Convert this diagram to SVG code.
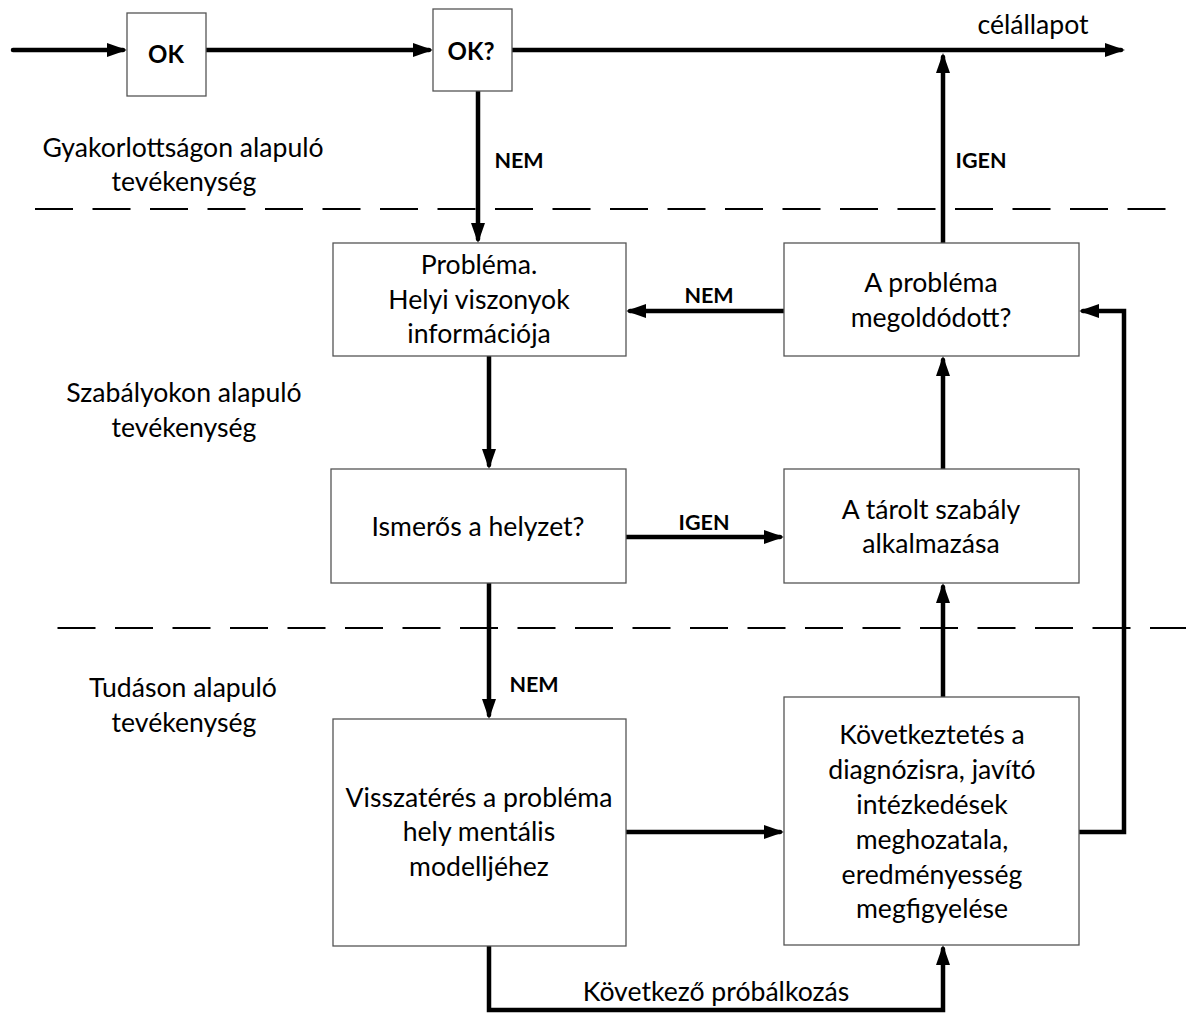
<svg xmlns="http://www.w3.org/2000/svg" width="1186" height="1014" viewBox="0 0 1186 1014">
  <defs>
    <marker id="arrow" viewBox="0 0 20 14" markerWidth="20" markerHeight="14" refX="16" refY="7" orient="auto" markerUnits="userSpaceOnUse">
      <path d="M0,0 L20,7 L0,14 z" fill="#000"/>
    </marker>
    <style>
      .box { fill: #fff; stroke: #555; stroke-width: 1.3; }
      .txt { font-family: Lato, "Open Sans", "Liberation Sans", sans-serif; font-size: 26.6px; fill: #000; text-anchor: middle; }
      .lbl { font-family: Lato, "Open Sans", "Liberation Sans", sans-serif; font-size: 21.5px; font-weight: bold; fill: #000; text-anchor: middle; }
      .big { font-family: Lato, "Open Sans", "Liberation Sans", sans-serif; font-size: 24px; font-weight: bold; fill: #000; text-anchor: middle; }
      .conn { fill: none; stroke: #000; stroke-width: 4.5; stroke-linecap: round; stroke-linejoin: miter; }
      .arr { marker-end: url(#arrow); }
      .tier { fill: none; stroke: #000; stroke-width: 2; stroke-dasharray: 38 19.5; }
    </style>
  </defs>

  <rect width="1186" height="1014" fill="#fff"/>

  <!-- tier separators -->
  <g id="tiers">
    <line class="tier" x1="35" y1="209" x2="1168" y2="209"/>
    <line class="tier" x1="57.5" y1="628" x2="1186" y2="628"/>
  </g>

  <!-- tier captions -->
  <g id="tier-labels">
    <text class="txt" x="183" y="157">Gyakorlottságon alapuló</text>
    <text class="txt" x="184" y="191">tevékenység</text>
    <text class="txt" x="184" y="402">Szabályokon alapuló</text>
    <text class="txt" x="184" y="437">tevékenység</text>
    <text class="txt" x="183" y="697">Tudáson alapuló</text>
    <text class="txt" x="184" y="732">tevékenység</text>
  </g>

  <!-- connectors -->
  <g id="connectors">
    <path class="conn arr" d="M13,50 H123"/>
    <path class="conn arr" d="M206,50 H429"/>
    <path class="conn arr" d="M512,50 H1121"/>
    <path class="conn arr" d="M478,91 V239"/>
    <path class="conn arr" d="M943,243 V57"/>
    <path class="conn arr" d="M784,311 H630"/>
    <path class="conn arr" d="M1079,832 H1124 V311 H1083"/>
    <path class="conn arr" d="M489,356 V465"/>
    <path class="conn arr" d="M626,537 H780"/>
    <path class="conn arr" d="M943,469 V360"/>
    <path class="conn arr" d="M489,583 V715"/>
    <path class="conn arr" d="M626,832 H780"/>
    <path class="conn arr" d="M943,697 V587"/>
    <path class="conn arr" d="M489,946 V1010 H943 V949"/>
    <text class="txt" x="1033" y="34">célállapot</text>
    <text class="lbl" x="519" y="168">NEM</text>
    <text class="lbl" x="981" y="168">IGEN</text>
    <text class="lbl" x="709" y="303">NEM</text>
    <text class="lbl" x="704" y="530">IGEN</text>
    <text class="lbl" x="534" y="692">NEM</text>
    <text class="txt" x="716" y="1001">Következő próbálkozás</text>
  </g>

  <!-- nodes -->
  <g id="node-ok">
    <rect class="box" x="127" y="13" width="79" height="83"/>
    <text class="big" x="166" y="63">OK</text>
  </g>
  <g id="node-ok-check">
    <rect class="box" x="433" y="9" width="79" height="82"/>
    <text class="big" x="471" y="60">OK?</text>
  </g>
  <g id="node-problem">
    <rect class="box" x="333" y="243" width="293" height="113"/>
    <text class="txt" x="479" y="274">Probléma.</text>
    <text class="txt" x="479" y="309">Helyi viszonyok</text>
    <text class="txt" x="479" y="343">információja</text>
  </g>
  <g id="node-solved">
    <rect class="box" x="784" y="243" width="295" height="113"/>
    <text class="txt" x="931" y="292">A probléma</text>
    <text class="txt" x="931" y="327">megoldódott?</text>
  </g>
  <g id="node-familiar">
    <rect class="box" x="331" y="469" width="295" height="114"/>
    <text class="txt" x="478" y="536">Ismerős a helyzet?</text>
  </g>
  <g id="node-rule">
    <rect class="box" x="784" y="469" width="295" height="114"/>
    <text class="txt" x="931" y="519">A tárolt szabály</text>
    <text class="txt" x="931" y="553">alkalmazása</text>
  </g>
  <g id="node-model">
    <rect class="box" x="333" y="719" width="293" height="227"/>
    <text class="txt" x="479" y="807">Visszatérés a probléma</text>
    <text class="txt" x="479" y="841">hely mentális</text>
    <text class="txt" x="479" y="876">modelljéhez</text>
  </g>
  <g id="node-diagnosis">
    <rect class="box" x="784" y="697" width="295" height="248"/>
    <text class="txt" x="932" y="744">Következtetés a</text>
    <text class="txt" x="932" y="779">diagnózisra, javító</text>
    <text class="txt" x="932" y="814">intézkedések</text>
    <text class="txt" x="932" y="849">meghozatala,</text>
    <text class="txt" x="932" y="884">eredményesség</text>
    <text class="txt" x="932" y="918">megfigyelése</text>
  </g>
</svg>
